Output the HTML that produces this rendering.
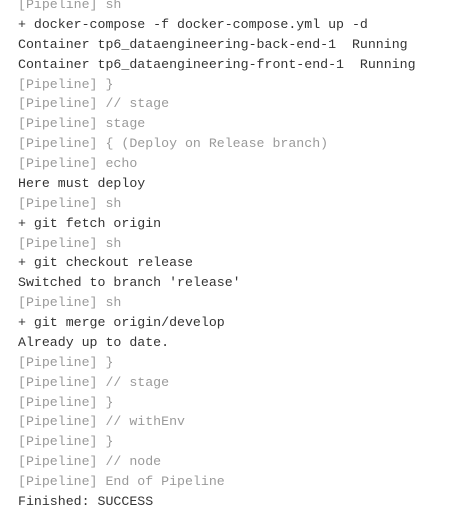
<!DOCTYPE html>
<html><head><style>
html,body{margin:0;padding:0;background:#fff;width:451px;height:521px;overflow:hidden}
pre{margin:0;position:absolute;left:18px;top:-5px;font-family:"Liberation Mono",monospace;font-size:13.25px;line-height:19.88px;color:#333}
.g{color:#9a9a9a}
</style></head><body>
<pre><span class="g">[Pipeline] sh</span>
+ docker-compose -f docker-compose.yml up -d
Container tp6_dataengineering-back-end-1  Running
Container tp6_dataengineering-front-end-1  Running
<span class="g">[Pipeline] }</span>
<span class="g">[Pipeline] // stage</span>
<span class="g">[Pipeline] stage</span>
<span class="g">[Pipeline] { (Deploy on Release branch)</span>
<span class="g">[Pipeline] echo</span>
Here must deploy
<span class="g">[Pipeline] sh</span>
+ git fetch origin
<span class="g">[Pipeline] sh</span>
+ git checkout release
Switched to branch 'release'
<span class="g">[Pipeline] sh</span>
+ git merge origin/develop
Already up to date.
<span class="g">[Pipeline] }</span>
<span class="g">[Pipeline] // stage</span>
<span class="g">[Pipeline] }</span>
<span class="g">[Pipeline] // withEnv</span>
<span class="g">[Pipeline] }</span>
<span class="g">[Pipeline] // node</span>
<span class="g">[Pipeline] End of Pipeline</span>
Finished: SUCCESS</pre>
</body></html>
